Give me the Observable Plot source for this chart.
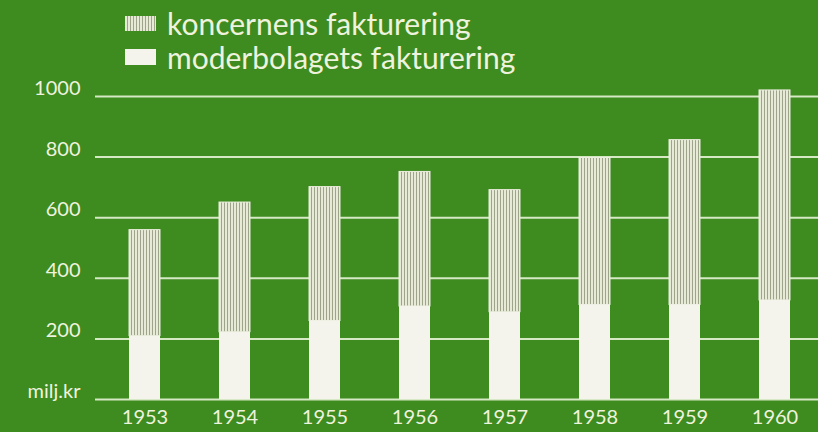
<!DOCTYPE html>
<html>
<head>
<meta charset="utf-8">
<script src="https://cdn.jsdelivr.net/npm/d3@7"></script>
<script src="https://cdn.jsdelivr.net/npm/@observablehq/plot@0.6"></script>
<style>
  html, body { margin: 0; padding: 0; background: #3e8b20; overflow: hidden; }
  #wrap { position: relative; width: 818px; height: 432px; background: #3e8b20; }
  #legend { position: relative; height: 64px; width: 818px; font-family: Lato, "Open Sans", sans-serif; color: #eef3de; z-index: 1; }
  .row { position: absolute; left: 125px; display: flex; align-items: center; font-size: 30px; line-height: 30px; }
  .sw { width: 31px; height: 15px; margin-right: 11px; }
  .sw.str { background: repeating-linear-gradient(90deg, #e8ead8 0px, #e8ead8 2px, #9da48a 2px, #9da48a 3px); }
  .sw.wh { background: #f4f4ec; height: 16px; }
  #chart svg { display: block; }
</style>
</head>
<body>
<div id="wrap">
  <div id="legend">
    <div class="row" style="top:8px"><div class="sw str"></div><span>koncernens fakturering</span></div>
    <div class="row" style="top:42px"><div class="sw wh"></div><span>moderbolagets fakturering</span></div>
  </div>
  <div id="chart"></div>
</div>
<script>
const years = ["1953", "1954", "1955", "1956", "1957", "1958", "1959", "1960"];
const koncernens = [559, 650, 701, 751, 691, 797, 856, 1020];
const moderbolagets = [209, 222, 259, 307, 288, 312, 312, 327];
const yTicks = [0, 200, 400, 600, 800, 1000];
const yTickLabels = ["milj.kr", "200", "400", "600", "800", "1000"];

const rows = years.map((y, i) => ({year: y, total: koncernens[i], moder: moderbolagets[i]}));

const svg = Plot.plot({
  width: 818,
  height: 368,
  marginLeft: 95,
  marginRight: 0,
  marginTop: 32,
  marginBottom: 33,
  style: {background: "transparent", color: "#eef3de", fontFamily: "Lato, 'Open Sans', sans-serif"},
  x: {domain: years, paddingInner: 0.66, paddingOuter: 0.31, align: 0.55, label: null},
  y: {domain: [0, 1000], label: null},
  marks: [
    Plot.ruleY(yTicks, {stroke: "#d6e9c4", strokeWidth: 2}),
    Plot.barY(rows, {x: "year", y1: "moder", y2: "total", fill: "url(#stripes)", stroke: "#eceedf", strokeWidth: 1, inset: 0}),
    Plot.barY(rows, {x: "year", y1: 0, y2: "moder", fill: "#f4f4ec", inset: 0}),
    Plot.axisY(yTicks, {tickSize: 0, tickPadding: 15, fontSize: 20, dy: -8, tickFormat: (d) => yTickLabels[yTicks.indexOf(d)], fill: "#eef3de"}),
    Plot.axisX({tickSize: 0, tickPadding: 10, fontSize: 20, fill: "#eef3de"})
  ]
});

svg.insertAdjacentHTML("afterbegin",
  `<defs><pattern id="stripes" patternUnits="userSpaceOnUse" width="3" height="10">
     <rect x="0" y="0" width="3" height="10" fill="#9da48a"></rect>
     <rect x="0" y="0" width="2" height="10" fill="#e8ead8"></rect>
   </pattern></defs>`);

document.getElementById("chart").appendChild(svg);
</script>
</body>
</html>
